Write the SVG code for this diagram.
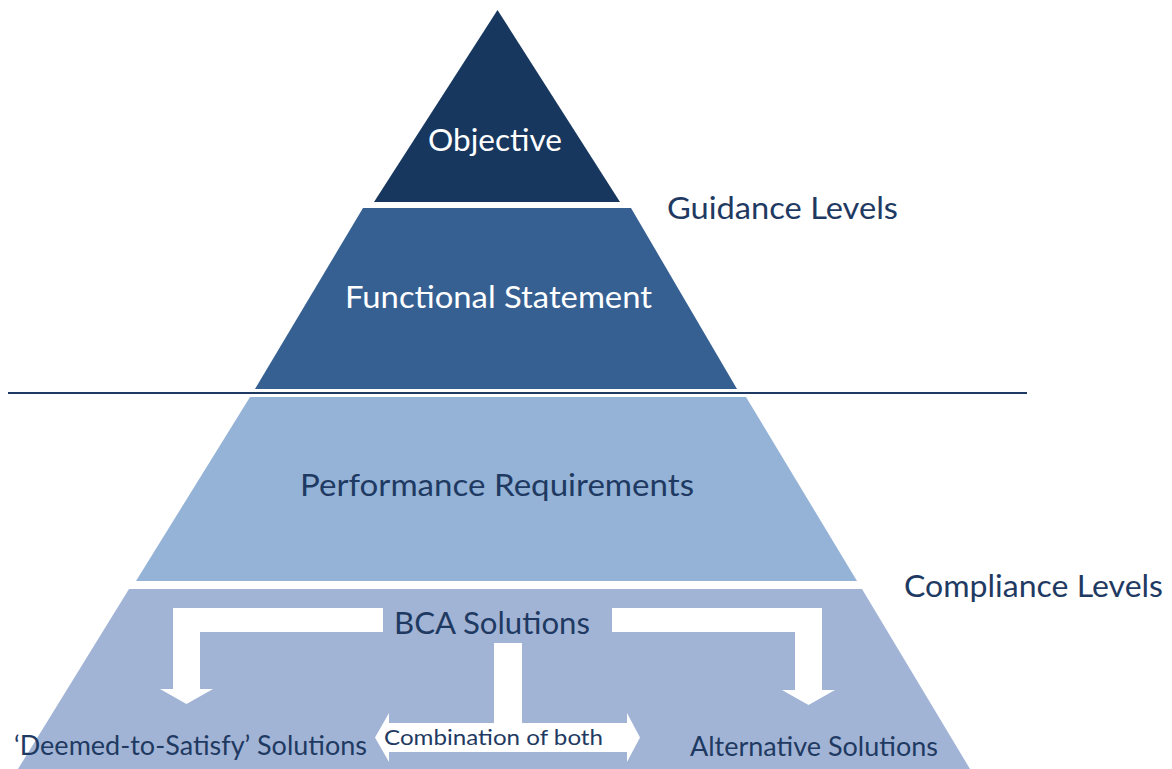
<svg xmlns="http://www.w3.org/2000/svg" width="1172" height="769" viewBox="0 0 1172 769">
<style>
  .lbl { font-family: Lato, "Open Sans", "Liberation Sans", sans-serif; }
  .w { fill: #ffffff; }
  .d { fill: #1f3a62; }
  .arrow { fill: #ffffff; stroke: none; }
</style>
<rect width="1172" height="769" fill="#ffffff"/>
<g id="objective">
  <polygon points="497.5,10 620,202 374,202" fill="#17375e"/>
  <text class="lbl w" x="428" y="151" font-size="31" textLength="134" lengthAdjust="spacingAndGlyphs">Objective</text>
</g>
<g id="functional-statement">
  <polygon points="363,208 631,208 737,389 255,389" fill="#366092"/>
  <text class="lbl w" x="345" y="308" font-size="31" textLength="307" lengthAdjust="spacingAndGlyphs">Functional Statement</text>
</g>
<g id="divider">
  <line x1="8" y1="393" x2="1027" y2="393" stroke="#1f3a62" stroke-width="2"/>
</g>
<g id="performance-requirements">
  <polygon points="250,397 746,397 857,581 136,581" fill="#95b3d7"/>
  <text class="lbl d" x="300" y="496" font-size="31" textLength="394" lengthAdjust="spacingAndGlyphs">Performance Requirements</text>
</g>
<g id="bca-solutions">
  <polygon points="129,589 862,589 970,769 18,769" fill="#a2b4d5"/>
  <text class="lbl d" x="394" y="634" font-size="31" textLength="196" lengthAdjust="spacingAndGlyphs">BCA Solutions</text>
</g>
<g id="deemed-to-satisfy">
  <text class="lbl d" x="14" y="755" font-size="27" textLength="353" lengthAdjust="spacingAndGlyphs">‘Deemed-to-Satisfy’ Solutions</text>
</g>
<g id="alternative-solutions">
  <text class="lbl d" x="690" y="756" font-size="27" textLength="248" lengthAdjust="spacingAndGlyphs">Alternative Solutions</text>
</g>
<g id="guidance-levels">
  <text class="lbl d" x="667" y="219" font-size="31" textLength="231" lengthAdjust="spacingAndGlyphs">Guidance Levels</text>
</g>
<g id="compliance-levels">
  <text class="lbl d" x="904" y="597" font-size="31" textLength="259" lengthAdjust="spacingAndGlyphs">Compliance Levels</text>
</g>
<g id="connectors">
  <polygon class="arrow" points="383,608 173,608 173,689 160,689 186.5,704 213,689 200,689 200,632 383,632"/>
  <polygon class="arrow" points="612,608 822,608 822,690 835,690 808.5,705 782,690 795,690 795,632 612,632"/>
  <polygon class="arrow" points="494,643 522,643 522,723 627,723 627,713 640,737.5 627,762 627,752 389,752 389,762 375,737.5 389,713 389,723 494,723"/>
  <text class="lbl d" x="384" y="745" font-size="21" textLength="219" lengthAdjust="spacingAndGlyphs">Combination of both</text>
</g>
</svg>
